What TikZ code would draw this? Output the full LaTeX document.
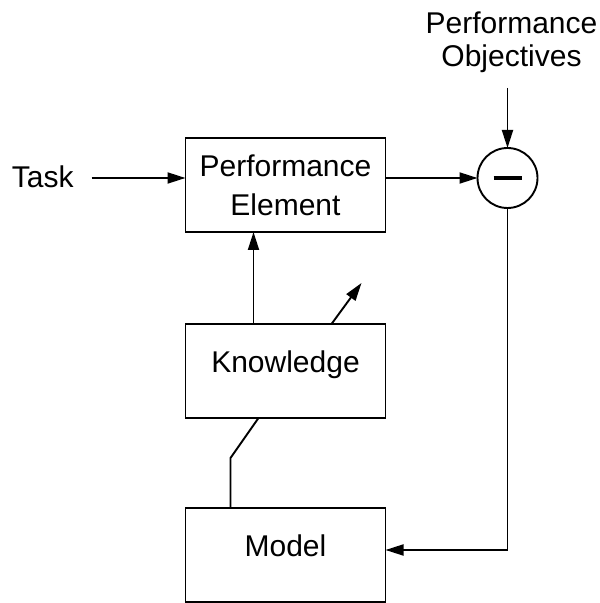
\documentclass[tikz,border=0pt]{standalone}
\usepackage{fontspec}
\setmainfont{Liberation Sans}
\usetikzlibrary{positioning,arrows.meta}

\tikzset{
  block/.style={rectangle, draw, minimum width=200pt, minimum height=94pt, inner sep=0pt, outer sep=0pt},
  lowtext/.style={text height=20pt, text depth=17pt},
  label/.style={inner sep=0pt}
}

\begin{document}
\begin{tikzpicture}[x=1pt, y=1pt, line width=1.9pt, node distance=92pt,
    >={Triangle[length=18pt,width=11pt]},
    font=\fontsize{30}{39}\selectfont]
        \useasboundingbox (0,0) rectangle (600,603);

        % Performance Element
        \node[block, align=center] (pe) at (285.5,418) {Performance\\Element};

        % Knowledge
        \node[block, lowtext, below=of pe] (know) {Knowledge};

        % Model
        \node[block, lowtext, below=90pt of know] (model) {Model};

        % Subtraction
        \node[circle, draw, minimum size=60pt, inner sep=0pt, outer sep=0pt, right=92pt of pe, yshift=7pt] (sub) {\rule[-2pt]{28pt}{4pt}};

        % Task
        \node[label, left=111pt of pe, yshift=8pt] (task) {Task};

        % Performance Objectives
        \node[label, align=center, above=74pt of sub, xshift=4pt,
              font=\fontsize{30}{33}\selectfont] (obj) {Performance\\Objectives};

        % Free ends
        \coordinate (tweak) at ([shift={(76pt,41pt)}]know.north);
        \coordinate (bend) at ([shift={(-55pt,50pt)}]model.north);

        % Connections
        \draw[->, shorten <=17pt] (task.east |- sub) -- (pe.west |- sub);
        \draw[->] (pe.east |- sub) -- (sub.west);
        \draw[->, shorten <=14pt] (obj.south -| sub) -- (sub.north);
        \draw[->] ([xshift=-32pt]know.north) -- ([xshift=-32pt]pe.south);
        \draw[->] ([xshift=46pt]know.north) -- (tweak);
        \draw ([xshift=-55pt]model.north) -- (bend) -- ([xshift=-27pt]know.south);
        \draw[->] (sub.south) |- ([yshift=5pt]model.east);
    \end{tikzpicture}
\end{document}
